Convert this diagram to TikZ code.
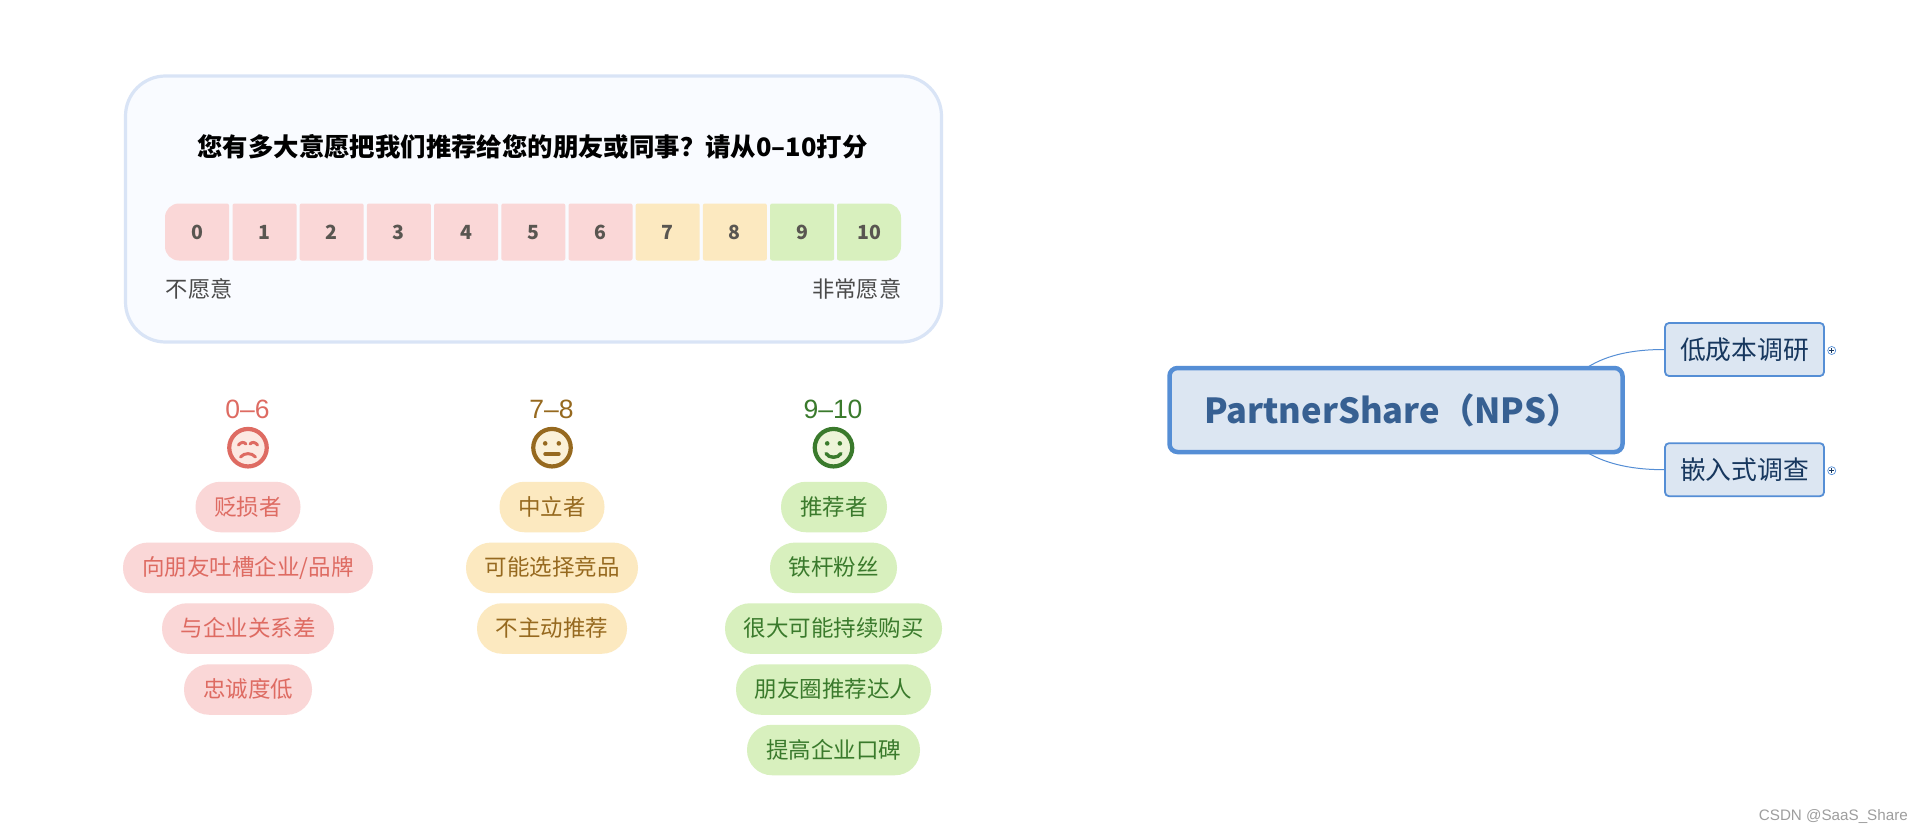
\documentclass[tikz,border=0pt]{standalone}
\usepackage{fontspec}
\setmainfont{Noto Sans CJK SC}
\newfontfamily\wmfont{Liberation Sans}
\definecolor{cardfill}{HTML}{F9FBFF}
\definecolor{cardline}{HTML}{D9E4F6}
\definecolor{pinkbg}{HTML}{FAD7D7}
\definecolor{pinkfg}{HTML}{DE6B62}
\definecolor{pinkface}{HTML}{FCE9E2}
\definecolor{ambbg}{HTML}{FCE9C0}
\definecolor{ambfg}{HTML}{96691F}
\definecolor{ambface}{HTML}{FBF1D8}
\definecolor{grnbg}{HTML}{D8F0BE}
\definecolor{grnfg}{HTML}{3A7A2C}
\definecolor{grnface}{HTML}{EDF4D8}
\definecolor{celltxt}{HTML}{595651}
\definecolor{capt}{HTML}{4A4A4A}
\definecolor{mapline}{HTML}{558ED5}
\definecolor{mapfill}{HTML}{DCE6F2}
\definecolor{maptxt}{HTML}{376092}
\definecolor{subtxt}{HTML}{17375E}
\newcommand{\fs}[1]{\fontsize{#1}{#1}\selectfont}
\tikzset{
  txt/.style={inner sep=0pt},
  cellbox/.style={txt,text height=15.6pt,text depth=1.6pt,minimum width=64pt,minimum height=57pt,font=\fs{19.5}\bfseries,text=celltxt},
  pillbox/.style={txt,text height=18pt,text depth=1.8pt,minimum height=50.5pt,rounded corners=25pt,font=\fs{22.5}},
  scorelbl/.style={txt,text height=20.8pt,text depth=2.1pt,font=\wmfont\fs{26.5}},
  facecirc/.style={circle,inner sep=0pt,minimum size=37.5pt,line width=4.2pt},
  feat/.style={line width=3pt,line cap=round},
  captlbl/.style={txt,text height=17.8pt,text depth=1.8pt,font=\fs{22.3},text=capt},
  mapsub/.style={txt,text height=22pt,text depth=2.1pt,draw=mapline,fill=mapfill,line width=1.8pt,rounded corners=4pt,minimum width=159pt,minimum height=53pt,text=subtxt,font=\fs{25.8}},
  foldmark/.style={circle,draw=mapline,fill=white,line width=.7pt,minimum size=8pt,inner sep=0pt},
  maplink/.style={draw=mapline,line width=1pt}
}
\begin{document}
\begin{tikzpicture}[x=1pt,y=-1pt]
\useasboundingbox (0,0) rectangle (1920,832);
\fill[white] (0,0) rectangle (1920,832);
% card
\node[draw=cardline,fill=cardfill,line width=3.2pt,rounded corners=40pt,minimum width=816pt,minimum height=266pt,inner sep=0pt] (card) at (533.5,209) {};
\node[txt,text height=20.2pt,text depth=2pt,font=\fs{25.4}\bfseries,text=black] (title) at (532.5,147) {您有多大意愿把我们推荐给您的朋友或同事？请从0–10打分};
% cells
\fill[pinkbg,rounded corners=14pt] (165,260.5) -- (165,203.5) [rounded corners=2pt] -- (229,203.5) -- (229,260.5) [rounded corners=14pt] -- cycle;
\fill[grnbg,rounded corners=2pt] (837,260.5) -- (837,203.5) [rounded corners=14pt] -- (901,203.5) -- (901,260.5) [rounded corners=2pt] -- cycle;
\node[cellbox] (c0) at (197.5,232) {0};
\foreach \n/\col in {1/pinkbg,2/pinkbg,3/pinkbg,4/pinkbg,5/pinkbg,6/pinkbg,7/ambbg,8/ambbg,9/grnbg}{
  \node[cellbox,fill=\col,rounded corners=2pt] (c\n) at ({197.3+67.2*\n},232) {\n};
}
\node[cellbox] (c10) at (869,232) {10};
\node[captlbl,anchor=west] (lo) at (165.5,289) {不愿意};
\node[captlbl,anchor=east] (hi) at (901.5,289) {非常愿意};
% group 1
\node[scorelbl,text=pinkfg] (r1) at (247.5,409) {0–6};
\node[facecirc,draw=pinkfg,fill=pinkface] (f1) at (248,447.7) {};
\draw[feat,draw=pinkfg] (238.5,445) .. controls (241,441.8) and (244,441.8) .. (246,444);
\draw[feat,draw=pinkfg] (250,444) .. controls (252,441.8) and (255,441.8) .. (257.5,445);
\draw[feat,draw=pinkfg] (240.5,457) .. controls (244.5,452.5) and (251.5,452.5) .. (255.5,457);
\node[pillbox,fill=pinkbg,text=pinkfg,minimum width=105pt] (a1) at (248,507) {贬损者};
\node[pillbox,fill=pinkbg,text=pinkfg,minimum width=250pt] (a2) at (248,567.8) {向朋友吐槽企业/品牌};
\node[pillbox,fill=pinkbg,text=pinkfg,minimum width=172pt] (a3) at (248,628.5) {与企业关系差};
\node[pillbox,fill=pinkbg,text=pinkfg,minimum width=128pt] (a4) at (248,689.5) {忠诚度低};
% group 2
\node[scorelbl,text=ambfg] (r2) at (551.5,409) {7–8};
\node[facecirc,draw=ambfg,fill=ambface] (f2) at (552,447.7) {};
\fill[ambfg] (545.2,443.4) circle (2.3pt) (558.8,443.4) circle (2.3pt);
\draw[feat,draw=ambfg,line width=3.4pt] (545,454) -- (559,454);
\node[pillbox,fill=ambbg,text=ambfg,minimum width=105pt] (b1) at (552,507) {中立者};
\node[pillbox,fill=ambbg,text=ambfg,minimum width=172pt] (b2) at (552,567.8) {可能选择竞品};
\node[pillbox,fill=ambbg,text=ambfg,minimum width=150pt] (b3) at (552,628.5) {不主动推荐};
% group 3
\node[scorelbl,text=grnfg] (r3) at (833,409) {9–10};
\node[facecirc,draw=grnfg,fill=grnface] (f3) at (833.5,447.7) {};
\fill[grnfg] (827.2,443.4) circle (2.3pt) (839.8,443.4) circle (2.3pt);
\draw[feat,draw=grnfg,line width=3.4pt] (826,453.5) .. controls (829,458.5) and (838,458.5) .. (841,453.5);
\node[pillbox,fill=grnbg,text=grnfg,minimum width=106pt] (d1) at (834,507) {推荐者};
\node[pillbox,fill=grnbg,text=grnfg,minimum width=127pt] (d2) at (833.5,567.8) {铁杆粉丝};
\node[pillbox,fill=grnbg,text=grnfg,minimum width=217pt] (d3) at (833.5,628.5) {很大可能持续购买};
\node[pillbox,fill=grnbg,text=grnfg,minimum width=195pt] (d4) at (833.5,689.5) {朋友圈推荐达人};
\node[pillbox,fill=grnbg,text=grnfg,minimum width=173pt] (d5) at (833.5,750) {提高企业口碑};
% mind map
\node[draw=mapline,fill=mapfill,line width=4.5pt,rounded corners=8pt,minimum width=453pt,minimum height=84pt,inner sep=0pt] (main) at (1396,410) {};
\node[txt,text height=27.6pt,text depth=2.8pt,anchor=west,font=\fs{34.5}\bfseries,text=maptxt] (maintxt) at (1204,411) {PartnerShare（NPS）};
\node[mapsub] (s1) at (1744.5,349.5) {低成本调研};
\node[mapsub] (s2) at (1744.5,469.7) {嵌入式调查};
\path (main.north east) ++(-38,2) coordinate (m1);
\path (main.south east) ++(-38,-2) coordinate (m2);
\draw[maplink] (m1) .. controls (1608,354) and (1635,349.5) .. (s1.west);
\draw[maplink] (m2) .. controls (1608,465) and (1635,469.7) .. (s2.west);
\node[foldmark] (p1) at (1831.7,350.5) {};
\node[foldmark] (p2) at (1831.7,470.7) {};
\draw[subtxt,line width=.7pt] (1829.4,350.5) -- (1834,350.5) (1831.7,348.2) -- (1831.7,352.8);
\draw[subtxt,line width=.7pt] (1829.4,470.7) -- (1834,470.7) (1831.7,468.4) -- (1831.7,473);
% watermark
\node[txt,text height=11pt,text depth=2pt,anchor=east,font=\wmfont\fs{15.2},text=black!38] (wm) at (1908,816) {CSDN @SaaS\_Share};
\end{tikzpicture}
\end{document}
